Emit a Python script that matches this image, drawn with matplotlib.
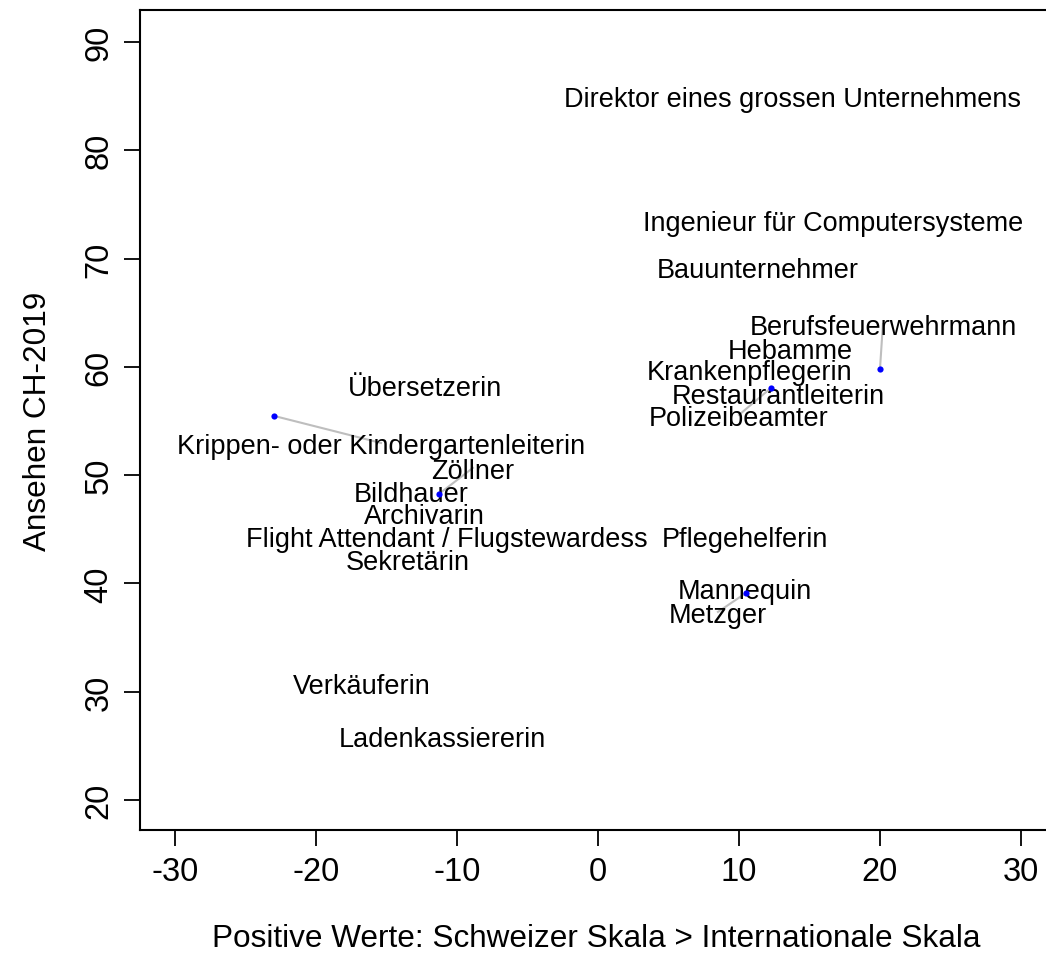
"""
Ansehen CH-2019 vs. Differenz Schweizer / Internationale Skala
Beschriftete Punkte (textplot-Stil) mit Verbindungslinien.
"""

import matplotlib
matplotlib.use("Agg")
import matplotlib.pyplot as plt

plt.rcParams['font.family'] = ['Liberation Sans', 'DejaVu Sans']

# Berufe und Lage der Beschriftungen
berufe = [
    "Direktor eines grossen Unternehmens", "Ingenieur für Computersysteme",
    "Bauunternehmer", "Berufsfeuerwehrmann", "Hebamme", "Krankenpflegerin",
    "Restaurantleiterin", "Polizeibeamter", "Übersetzerin",
    "Krippen- oder Kindergartenleiterin", "Zöllner", "Bildhauer",
    "Archivarin", "Flight Attendant / Flugstewardess", "Sekretärin",
    "Pflegehelferin", "Mannequin", "Metzger", "Verkäuferin",
    "Ladenkassiererin",
]
label_x = [13.83, 16.67, 11.35, 20.21, 13.62, 10.78, 12.77, 10.0, -12.27,
           -15.39, -8.87, -13.26, -12.34, -10.71, -13.48, 10.43, 10.43,
           8.51, -16.74, -11.0]
label_y = [85.0, 73.56, 69.2, 63.96, 61.75, 59.8, 57.6, 55.56, 58.33,
           52.97, 50.67, 48.54, 46.51, 44.39, 42.26, 44.39, 39.58, 37.37,
           30.81, 25.92]

# verschobene Beschriftungen: urspruengliche Punkte
verschoben = ["Krippen- oder Kindergartenleiterin", "Berufsfeuerwehrmann",
              "Polizeibeamter", "Zöllner", "Metzger"]
punkt_x = [-22.98, 20.0, 12.27, -11.28, 10.5]
punkt_y = [55.47, 59.8, 58.05, 48.26, 39.12]

x_ticks = [-30, -20, -10, 0, 10, 20, 30]
y_ticks = [20, 30, 40, 50, 60, 70, 80, 90]

fig = plt.figure(figsize=(10.46, 9.54), dpi=100)
ax = fig.add_axes([140 / 1046, 1 - 831 / 954, 912 / 1046, 820 / 954])

# Linien von Punkt zu Beschriftung
for name, px, py in zip(verschoben, punkt_x, punkt_y):
    i = berufe.index(name)
    ax.plot([px, label_x[i]], [py, label_y[i]], color="#BEBEBE", lw=1.5, zorder=1)
ax.scatter(punkt_x, punkt_y, s=20, color="blue", zorder=3, linewidths=0)

for name, lx, ly in zip(berufe, label_x, label_y):
    ax.text(lx, ly, name, ha="center", va="center_baseline", fontsize=19.5, zorder=2)

ax.set_xlim(-32.48, 32.2)
ax.set_ylim(17.23, 92.95)
ax.set_xticks(x_ticks)
ax.set_yticks(y_ticks)
ax.set_xticklabels([str(t) for t in x_ticks], fontsize=23.5)
ax.set_yticklabels([str(t) for t in y_ticks], fontsize=23.5, rotation=90, va="center")
ax.tick_params(direction="out", length=11.5, width=1.3, pad=7)
for sp in ax.spines.values():
    sp.set_linewidth(1.5)

ax.set_xlabel("Positive Werte: Schweizer Skala > Internationale Skala",
              fontsize=22.7, labelpad=26)
ax.set_ylabel("Ansehen CH-2019", fontsize=22.7, labelpad=22)

fig.savefig("out.png", dpi=100)
